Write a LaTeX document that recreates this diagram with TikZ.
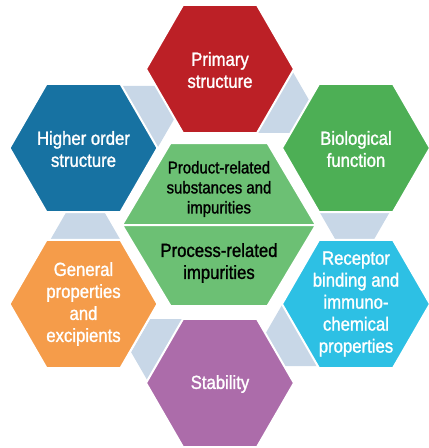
\documentclass[tikz,border=0pt]{standalone}
\usepackage{fontspec}
\setmainfont[FakeStretch=0.88,FakeBold=1.3]{Liberation Sans}
\usetikzlibrary{shapes.geometric}
\definecolor{primred}{HTML}{BC2026}
\definecolor{highblue}{HTML}{1772A2}
\definecolor{biogreen}{HTML}{4DAF55}
\definecolor{genorange}{HTML}{F59C4A}
\definecolor{reccyan}{HTML}{2DC0E4}
\definecolor{stabpurple}{HTML}{AC6CAA}
\definecolor{midgreen}{HTML}{6CC074}
\definecolor{linkgray}{HTML}{C8D7E7}

\begin{document}
\begin{tikzpicture}[x=1pt,y=-1pt,
                    hex/.style={regular polygon,regular polygon sides=6,
                                minimum size=148pt,inner sep=0pt,draw=white,line width=2pt},
                    link/.style={regular polygon,regular polygon sides=6,
                                 minimum size=76pt,inner sep=0pt,fill=linkgray},
                    txt/.style={text=white,align=center,font=\fontsize{19}{22}\selectfont}]
  \tikzstyle{midtxt}=[text=black,align=center]

  \useasboundingbox (0,0) rectangle (429,448);
  \coordinate (mid) at (220,226);

  \foreach \a [count=\i] in {-8,-68,-128,-188,-248,-308}
    \path (mid) ++(\a:136) node[link] (link\i) {};

  \node[hex,fill=primred]    (prim) at (220,69)   {};
  \node[hex,fill=highblue]   (high) at (83.5,148) {};
  \node[hex,fill=biogreen]   (bio)  at (356,148)  {};
  \node[hex,fill=genorange]  (gen)  at (83.5,304) {};
  \node[hex,fill=reccyan]    (rec)  at (356,304)  {};
  \node[hex,fill=stabpurple] (stab) at (220,383)  {};

  \coordinate (cl)  at (122,225);
  \coordinate (cr)  at (316,225);
  \coordinate (ctl) at (170.5,143);
  \coordinate (ctr) at (267.5,143);
  \coordinate (cbl) at (170.5,306);
  \coordinate (cbr) at (267.5,306);
  \filldraw[fill=midgreen,draw=white,line width=2pt] (cl) -- (ctl) -- (ctr) -- (cr) -- cycle;
  \filldraw[fill=midgreen,draw=white,line width=2pt] (cl) -- (cbl) -- (cbr) -- (cr) -- cycle;

  \node[txt] (primtxt) at (220,70)   {Primary\\structure};
  \node[txt] (hightxt) at (83.5,149) {Higher order\\structure};
  \node[txt] (biotxt)  at (356,149)  {Biological\\function};
  \node[txt] (gentxt)  at (83.5,304) {General\\properties\\and\\excipients};
  \node[txt] (rectxt)  at (356,304)  {Receptor\\binding and\\immuno-\\chemical\\properties};
  \node[txt] (stabtxt) at (220,384)  {Stability};

  \node[midtxt,font=\fontsize{17}{20}\selectfont] (prodtxt) at (219,189)
        {Product-related\\substances and\\impurities};
  \node[midtxt,font=\fontsize{19}{22}\selectfont] (proctxt) at (219,263)
        {Process-related\\impurities};
\end{tikzpicture}
\end{document}
